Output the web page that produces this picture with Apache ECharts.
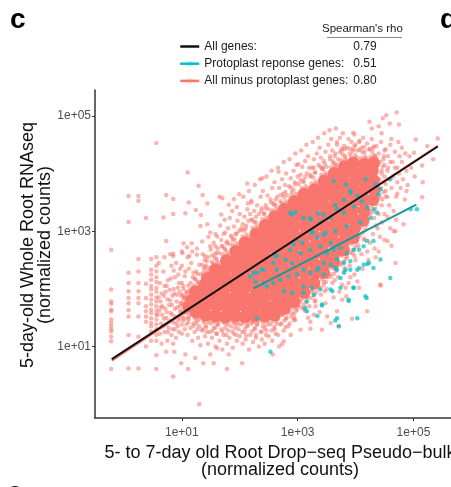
<!DOCTYPE html>
<html>
<head>
<meta charset="utf-8">
<script src="https://cdn.jsdelivr.net/npm/echarts@6/dist/echarts.min.js"></script>
<style>
  html, body { margin: 0; padding: 0; background: #fff; }
  #main { width: 451px; height: 487px; }
</style>
</head>
<body>
<div id="main"></div>
<script>
// all coordinates below are log10 values: [log10 x, log10 y]
const legendNames = ['All genes:', 'Protoplast reponse genes:', 'All minus protoplast genes:'];
const rhoValues = ['0.79', '0.51', '0.80'];
const tickValues = [10, 1000, 100000];

// regression lines, end points
const allGenesLine = [[-0.21, 0.78], [5.42, 4.47]];
const protoLine = [[2.24, 2.01], [5.05, 3.46]];
const minusLine = [[-0.21, 0.755], [5.42, 4.48]];

// solid middle of the cloud (drawn with bigger marks)
const minusCore = [
  [1.12,1.70],[1.17,1.80],
  [1.25,1.60],[1.27,1.78],[1.24,1.95],
  [1.41,1.55],[1.43,1.73],[1.42,1.90],[1.40,2.07],[1.44,2.18],
  [1.58,1.53],[1.60,1.70],[1.59,1.87],[1.57,2.03],[1.61,2.19],[1.58,2.33],
  [1.75,1.52],[1.77,1.69],[1.76,1.85],[1.74,2.02],[1.78,2.18],[1.75,2.35],[1.77,2.49],
  [1.92,1.53],[1.94,1.70],[1.93,1.86],[1.91,2.03],[1.95,2.19],[1.92,2.36],[1.94,2.52],[1.93,2.65],
  [2.09,1.52],[2.11,1.69],[2.10,1.85],[2.08,2.02],[2.12,2.18],[2.09,2.35],[2.11,2.50],[2.10,2.66],[2.09,2.80],
  [2.26,1.53],[2.28,1.70],[2.27,1.86],[2.25,2.03],[2.29,2.20],[2.26,2.36],[2.28,2.52],[2.27,2.68],[2.26,2.83],[2.28,2.95],
  [2.43,1.53],[2.45,1.70],[2.44,1.86],[2.42,2.02],[2.46,2.19],[2.43,2.35],[2.45,2.52],[2.44,2.68],[2.43,2.84],[2.45,2.99],[2.44,3.10],
  [2.60,1.55],[2.62,1.71],[2.61,1.88],[2.59,2.04],[2.63,2.20],[2.60,2.37],[2.62,2.53],[2.61,2.70],[2.60,2.86],[2.62,3.02],[2.61,3.16],[2.60,3.25],
  [2.77,1.66],[2.79,1.82],[2.78,1.98],[2.76,2.15],[2.80,2.31],[2.77,2.48],[2.79,2.64],[2.78,2.80],[2.77,2.96],[2.79,3.12],[2.78,3.27],[2.77,3.38],
  [2.94,1.78],[2.96,1.95],[2.95,2.11],[2.93,2.28],[2.97,2.44],[2.94,2.61],[2.96,2.77],[2.95,2.93],[2.94,3.10],[2.96,3.26],[2.95,3.41],[2.94,3.51],
  [3.11,1.94],[3.13,2.10],[3.12,2.27],[3.10,2.43],[3.14,2.60],[3.11,2.76],[3.13,2.92],[3.12,3.09],[3.11,3.25],[3.13,3.41],[3.12,3.55],[3.11,3.64],
  [3.28,2.10],[3.30,2.27],[3.29,2.43],[3.27,2.60],[3.31,2.76],[3.28,2.93],[3.30,3.09],[3.29,3.25],[3.28,3.42],[3.30,3.58],[3.29,3.72],
  [3.45,2.28],[3.47,2.44],[3.46,2.60],[3.44,2.77],[3.48,2.93],[3.45,3.10],[3.47,3.26],[3.46,3.42],[3.45,3.58],[3.47,3.74],[3.46,3.87],
  [3.62,2.47],[3.64,2.63],[3.63,2.80],[3.61,2.96],[3.65,3.12],[3.62,3.29],[3.64,3.45],[3.63,3.61],[3.62,3.77],[3.64,3.92],[3.63,4.00],
  [3.79,2.68],[3.81,2.84],[3.80,3.00],[3.78,3.17],[3.82,3.33],[3.79,3.49],[3.81,3.66],[3.80,3.82],[3.79,3.98],[3.81,4.12],
  [3.96,2.89],[3.98,3.05],[3.97,3.21],[3.95,3.38],[3.99,3.54],[3.96,3.70],[3.98,3.86],[3.97,4.02],[3.96,4.18],
  [4.13,3.19],[4.15,3.35],[4.14,3.52],[4.12,3.68],[4.16,3.84],[4.13,4.00],[4.15,4.16],
  [4.30,3.55],[4.32,3.72],[4.31,3.88],[4.29,4.05],[4.31,4.18]
];

// crowded band just outside the solid middle
const minusEdge = [
  [1.08,1.92],[1.14,1.98],[1.11,2.06],[1.06,1.85],[1.16,1.90],[1.08,1.60],[1.14,1.55],[1.10,1.50],[1.05,1.66],[1.17,1.62],
  [1.00,1.75],[0.97,1.70],[1.03,1.82],[0.98,1.58],[1.01,1.90],
  [1.21,2.06],[1.28,2.10],[1.24,2.16],[1.31,2.05],[1.19,2.20],[1.27,2.26],[1.22,1.50],[1.29,1.46],[1.25,1.40],[1.31,1.52],[1.20,1.36],[1.27,1.30],
  [1.37,2.28],[1.44,2.32],[1.40,2.38],[1.47,2.27],[1.35,2.42],[1.43,2.48],[1.38,1.45],[1.45,1.42],[1.41,1.36],[1.47,1.47],[1.36,1.30],[1.43,1.25],
  [1.54,2.44],[1.61,2.47],[1.57,2.54],[1.64,2.43],[1.52,2.58],[1.60,2.63],[1.55,1.42],[1.62,1.38],[1.58,1.33],[1.64,1.44],[1.53,1.27],[1.60,1.22],
  [1.71,2.60],[1.78,2.63],[1.74,2.70],[1.81,2.59],[1.69,2.74],[1.77,2.79],[1.72,1.42],[1.79,1.38],[1.75,1.32],[1.81,1.44],[1.70,1.26],[1.77,1.20],
  [1.88,2.76],[1.95,2.79],[1.91,2.86],[1.98,2.75],[1.86,2.90],[1.94,2.95],[1.89,1.42],[1.96,1.38],[1.92,1.32],[1.98,1.44],[1.87,1.26],[1.94,1.20],
  [2.05,2.91],[2.12,2.94],[2.08,3.01],[2.15,2.90],[2.03,3.05],[2.11,3.10],[2.06,1.41],[2.13,1.37],[2.09,1.31],[2.15,1.43],[2.04,1.25],[2.11,1.19],
  [2.22,3.06],[2.29,3.09],[2.25,3.16],[2.32,3.05],[2.20,3.20],[2.28,3.25],[2.23,1.42],[2.30,1.38],[2.26,1.32],[2.32,1.44],[2.21,1.26],[2.28,1.20],
  [2.39,3.21],[2.46,3.24],[2.42,3.31],[2.49,3.20],[2.37,3.35],[2.45,3.40],[2.40,1.42],[2.47,1.38],[2.43,1.32],[2.49,1.44],[2.38,1.26],[2.45,1.20],
  [2.56,3.36],[2.63,3.39],[2.59,3.46],[2.66,3.35],[2.54,3.50],[2.62,3.55],[2.57,1.44],[2.64,1.40],[2.60,1.34],[2.66,1.48],[2.55,1.28],[2.62,1.22],
  [2.73,3.49],[2.80,3.52],[2.76,3.59],[2.83,3.48],[2.71,3.63],[2.79,3.68],[2.74,1.55],[2.81,1.50],[2.77,1.45],[2.83,1.58],[2.72,1.40],[2.79,1.34],
  [2.90,3.62],[2.97,3.65],[2.93,3.72],[3.00,3.61],[2.88,3.76],[2.96,3.81],[2.91,1.67],[2.98,1.62],[2.94,1.57],[3.00,1.70],[2.89,1.52],[2.96,1.46],
  [3.07,3.75],[3.14,3.78],[3.10,3.85],[3.17,3.74],[3.05,3.89],[3.13,3.94],[3.08,1.83],[3.15,1.78],[3.11,1.73],[3.17,1.86],[3.06,1.68],[3.13,1.62],
  [3.24,3.83],[3.31,3.86],[3.27,3.93],[3.34,3.82],[3.22,3.97],[3.30,4.02],[3.25,1.99],[3.32,1.94],[3.28,1.89],[3.34,2.02],[3.23,1.84],[3.30,1.78],
  [3.41,3.98],[3.48,4.01],[3.44,4.08],[3.51,3.97],[3.39,4.12],[3.47,4.17],[3.42,2.17],[3.49,2.12],[3.45,2.07],[3.51,2.20],[3.40,2.02],[3.47,1.96],
  [3.58,4.11],[3.65,4.14],[3.61,4.21],[3.68,4.10],[3.56,4.25],[3.64,4.30],[3.59,2.36],[3.66,2.31],[3.62,2.26],[3.68,2.39],[3.57,2.21],[3.64,2.15],
  [3.75,4.23],[3.82,4.26],[3.78,4.33],[3.85,4.22],[3.73,4.37],[3.81,4.42],[3.76,2.57],[3.83,2.52],[3.79,2.47],[3.85,2.60],[3.74,2.42],[3.81,2.36],
  [3.92,4.29],[3.99,4.32],[3.95,4.39],[4.02,4.28],[3.90,4.43],[3.98,4.48],[3.93,2.78],[4.00,2.73],[3.96,2.68],[4.02,2.81],[3.91,2.63],[3.98,2.57],
  [4.09,4.27],[4.16,4.30],[4.12,4.37],[4.19,4.26],[4.07,4.41],[4.15,4.46],[4.10,3.08],[4.17,3.03],[4.13,2.98],[4.19,3.11],[4.08,2.93],[4.15,2.87],
  [4.26,4.29],[4.33,4.32],[4.29,4.38],[4.36,4.27],[4.24,4.42],[4.32,4.47],[4.27,3.44],[4.34,3.39],[4.30,3.34],[4.36,3.47],[4.25,3.29],[4.32,3.23],
  [4.42,3.60],[4.44,3.75],[4.41,3.90],[4.45,4.05],[4.43,4.20],[4.48,3.68],[4.50,3.95],[4.47,4.12],[4.52,3.82],[4.49,4.30],[4.55,3.60],[4.56,4.10],
  [0.61,1.62],[0.63,1.78],[0.67,1.35],[0.69,1.88],[0.71,1.66],[0.73,1.50],[0.75,1.82],[0.77,1.32],[0.79,1.98],[0.81,1.58],
  [0.83,1.72],[0.85,1.42],[0.87,1.92],[0.89,1.52],[0.91,1.78],[0.93,1.35],[0.95,2.10],[0.97,1.62],[0.99,1.88],[1.01,1.52],
  [1.03,2.00],[1.05,1.70],[1.07,1.58],[1.09,1.85],[1.11,1.42],[1.13,1.95],[1.15,1.65],[1.17,1.55],[1.19,1.90],[1.21,1.72],
  [0.64,1.68],[0.70,2.05],[0.76,1.25],[0.82,1.20],[0.88,1.30],[0.94,1.45],[1.00,1.22],[1.06,2.30],[0.97,2.35],[0.86,2.32]
];

// single visible genes further out
const minusSparse = [
  // low-count columns on the left
  [-0.22,2.68],[-0.22,1.99],[-0.22,1.78],[-0.22,1.74],[-0.22,1.64],[-0.22,1.61],[-0.22,1.47],[-0.22,1.41],[-0.22,1.35],[-0.22,1.30],[-0.22,1.26],[-0.22,1.17],[-0.22,1.09],[-0.22,0.61],
  [0.08,3.61],[0.08,3.16],[0.08,2.28],[0.08,2.10],[0.08,1.96],[0.08,1.84],[0.08,1.75],[0.08,1.63],[0.08,1.52],[0.08,1.20],[0.08,0.62],
  [0.25,3.61],[0.25,3.53],[0.25,2.52],[0.25,2.30],[0.25,2.10],[0.25,1.96],[0.25,1.84],[0.25,1.75],[0.25,1.52],[0.25,1.17],[0.25,0.62],
  [0.38,3.23],[0.38,2.09],[0.38,1.84],[0.38,1.70],[0.38,1.61],[0.38,1.52],[0.38,1.43],[0.38,1.00],
  [0.47,2.52],[0.47,2.33],[0.47,2.25],[0.47,2.16],[0.47,2.05],[0.47,1.99],[0.47,1.90],[0.47,1.81],[0.47,1.73],[0.47,1.64],[0.47,1.58],[0.47,1.49],[0.47,1.41],[0.47,1.35],[0.47,1.26],[0.47,1.10],
  [0.56,2.55],[0.56,2.40],[0.56,2.30],[0.56,2.20],[0.56,2.12],[0.56,2.02],[0.56,1.95],[0.56,1.85],[0.56,1.78],[0.56,1.70],[0.56,1.62],[0.56,1.55],[0.56,1.47],[0.56,1.38],[0.56,1.30],[0.56,1.20],[0.56,1.10],[0.56,0.85],[0.56,0.61],
  // left part of the cloud
  [0.58,1.55],[0.60,1.85],[0.62,2.10],[0.64,1.40],[0.66,1.70],[0.68,2.30],[0.70,1.25],[0.72,1.95],[0.74,1.60],[0.76,2.15],
  [0.78,1.45],[0.80,1.80],[0.82,2.40],[0.84,1.30],[0.86,2.00],[0.88,1.65],[0.90,1.15],[0.92,1.90],[0.94,2.25],[0.96,1.50],
  [0.98,1.75],[1.00,2.10],[1.02,1.62],[0.65,1.05],[0.75,1.10],[0.85,1.05],[0.95,1.25],[0.60,2.45],[0.70,2.55],[0.80,2.60],
  [0.90,2.45],[1.00,2.65],[0.66,1.55],[0.72,1.38],[0.78,1.72],[0.84,1.88],[0.90,1.40],[0.96,1.95],[0.62,1.22],[0.88,2.20],
  [0.65,1.92],[0.74,2.05],[0.83,1.55],[0.92,1.68],[1.00,1.38],[0.69,1.48],[0.81,2.18],[0.93,2.02],[1.04,1.85],[1.04,1.48],
  // upper-left strays
  [0.56,4.53],[0.73,3.63],[0.85,3.56],[0.68,3.24],[0.85,3.30],[0.73,2.83],[0.85,2.61],[0.85,2.57],[1.06,3.31],[1.10,4.02],
  [1.12,3.50],[1.29,3.79],[1.24,3.37],[1.33,3.28],[1.36,3.63],[1.44,3.48],[1.32,3.09],[1.44,3.12],[1.49,2.98],[1.65,3.60],
  [1.70,3.57],[1.68,3.29],[1.81,3.46],[1.83,3.23],[1.90,3.56],[1.99,3.64],[2.13,3.83],[2.14,3.48],[2.39,3.92],[2.20,3.53],
  [1.03,2.79],[1.17,2.79],[1.09,2.72],[1.01,2.62],[1.18,2.65],[1.26,2.59],[1.13,2.57],[1.40,2.57],[1.49,2.74],[1.58,2.74],
  [1.61,2.91],[1.75,2.98],[3.01,4.16],[2.67,4.03],[3.28,4.10],[3.43,4.10],[3.67,4.16],
  // upper edge of the cloud
  [1.02,2.05],[1.05,2.22],[1.08,1.95],[1.12,2.35],[1.15,2.10],[1.18,2.02],[1.20,2.28],[1.00,2.40],[1.10,2.55],[1.16,2.45],
  [1.22,2.18],[1.25,2.30],[1.28,2.12],[1.30,2.42],[1.33,2.25],[1.36,2.60],[1.38,2.35],[1.40,2.50],[1.26,2.70],[1.35,2.82],
  [1.42,2.40],[1.45,2.55],[1.48,2.36],[1.50,2.68],[1.52,2.47],[1.55,2.80],[1.57,2.60],[1.60,2.52],[1.46,2.90],[1.58,2.95],
  [1.62,2.70],[1.65,2.62],[1.68,2.85],[1.70,2.74],[1.72,2.95],[1.75,2.68],[1.78,2.82],[1.80,3.05],[1.66,3.10],[1.74,3.20],
  [1.82,2.78],[1.85,2.92],[1.88,2.85],[1.90,3.08],[1.93,2.95],[1.96,3.18],[1.98,3.00],[2.00,3.30],[1.87,3.35],[1.95,3.42],
  [2.02,3.02],[2.05,3.12],[2.08,3.25],[2.10,3.05],[2.13,3.38],[2.15,3.18],[2.18,3.30],[2.20,3.50],[2.06,3.60],[2.16,3.70],
  [2.22,3.20],[2.25,3.35],[2.28,3.15],[2.30,3.45],[2.33,3.30],[2.36,3.60],[2.38,3.40],[2.40,3.70],[2.26,3.80],[2.35,3.90],
  [2.42,3.30],[2.45,3.45],[2.48,3.62],[2.50,3.38],[2.53,3.55],[2.56,3.75],[2.58,3.48],[2.60,3.85],[2.46,3.95],[2.55,4.05],
  [2.62,3.45],[2.65,3.60],[2.68,3.75],[2.70,3.52],[2.73,3.90],[2.75,3.65],[2.78,3.80],[2.80,4.00],[2.66,4.10],[2.76,4.20],
  [2.82,3.62],[2.85,3.78],[2.88,3.92],[2.90,3.68],[2.93,4.05],[2.95,3.85],[2.98,4.15],[3.00,3.95],[2.86,4.25],[2.96,4.35],
  [3.02,3.82],[3.05,3.98],[3.08,4.12],[3.10,3.88],[3.13,4.22],[3.16,4.00],[3.18,4.30],[3.20,4.10],[3.06,4.40],[3.15,4.50],
  [3.22,3.95],[3.25,4.10],[3.28,4.25],[3.30,4.02],[3.33,4.35],[3.36,4.15],[3.38,4.45],[3.40,4.28],[3.26,4.55],[3.35,4.62],
  [3.42,4.08],[3.45,4.22],[3.48,4.38],[3.50,4.12],[3.53,4.50],[3.56,4.30],[3.58,4.60],[3.60,4.40],[3.46,4.70],[3.55,4.75],
  [3.62,4.18],[3.65,4.35],[3.68,4.50],[3.70,4.25],[3.73,4.62],[3.76,4.40],[3.78,4.70],[3.80,4.48],[3.66,4.78],
  [3.82,4.30],[3.85,4.45],[3.88,4.60],[3.90,4.35],[3.93,4.55],[3.96,4.42],[3.98,4.68],[4.00,4.50],
  [4.03,4.40],[4.06,4.55],[4.10,4.45],[4.13,4.62],[4.16,4.38],[4.20,4.52],[4.24,4.42],[4.28,4.60],[4.30,4.45],
  [4.33,4.30],[4.36,4.48],[4.40,4.35],[4.44,4.55],[4.48,4.25],[4.52,4.42],[4.56,4.30],[4.60,4.50],[4.64,4.20],[4.68,4.38],
  [4.72,4.10],[4.76,4.30],[4.80,4.45],
  // right side
  [4.45,4.00],[4.48,3.85],[4.50,4.15],[4.52,3.70],[4.55,4.05],[4.57,3.90],[4.60,4.20],[4.62,3.75],[4.65,3.95],[4.68,4.10],
  [4.70,3.60],[4.72,3.85],[4.75,4.00],[4.78,3.75],[4.80,4.20],[4.82,3.90],[4.85,3.55],[4.88,4.05],[4.90,3.80],[4.93,4.30],
  [4.46,3.55],[4.58,3.45],[4.66,3.35],[4.50,4.40],[4.62,4.60],[4.74,4.55],[4.86,4.35],[4.96,4.10],[4.45,4.70],[4.40,4.82],
  [4.45,3.45],[4.55,3.25],[4.60,3.05],[4.50,2.85],[4.62,2.75],[4.40,2.65],[4.70,3.20],[4.52,3.60],[4.35,3.10],
  [4.71,5.06],[4.53,5.01],[4.59,4.87],[4.47,4.96],[4.75,4.85],[4.24,4.90],[4.28,4.78],[3.96,4.71],[4.07,4.57],[3.68,4.55],
  [3.76,4.43],[5.04,4.59],[5.42,4.61],[5.24,4.48],[5.34,4.25],[5.15,4.14],[5.01,4.36],[5.02,3.95],[5.16,3.85],[5.15,3.59],
  [4.88,3.70],[4.72,3.65],[4.83,3.12],[4.69,3.00],[4.55,2.83],[4.66,3.00],
  // lower-right edge
  [4.40,3.30],[4.45,3.15],[4.38,3.05],[4.50,3.30],[4.42,2.90],[4.30,2.95],[4.25,2.80],[4.33,2.70],[4.20,2.65],[4.15,2.85],
  [4.10,2.60],[4.05,2.75],[4.00,2.50],[3.95,2.62],[3.90,2.40],[3.85,2.55],[3.80,2.30],[3.75,2.45],[3.70,2.20],[3.65,2.35],
  [3.60,2.10],[3.55,2.25],[3.50,2.00],[3.45,2.12],[3.40,1.90],[3.35,2.05],[3.30,1.80],[3.25,1.95],[3.20,1.70],[3.15,1.85],
  [3.10,1.65],[3.05,1.78],[4.12,2.35],[4.22,2.50],[4.35,2.55],[3.98,2.25],[3.88,2.10],[3.72,1.95],[3.62,1.85],[3.48,1.75],
  [3.38,1.60],[3.28,1.55],[3.18,1.50],
  [4.43,2.06],[4.69,2.45],[3.94,1.48],[4.20,1.61],[3.77,1.81],[3.68,1.61],[3.71,1.35],[3.57,1.41],[3.42,1.29],[3.22,1.31],
  [3.05,1.29],[2.84,1.35],[2.76,1.09],[2.73,1.04],[2.57,0.86],[2.93,1.46],[3.22,1.43],[3.31,1.70],[3.51,1.52],[3.83,2.02],
  [3.77,2.07],[4.03,2.13],[3.91,2.20],[4.06,2.02],[3.84,1.87],[4.43,2.07],
  // lower edge
  [1.02,1.45],[1.05,1.30],[1.08,1.38],[1.10,1.20],[1.12,1.48],[1.15,1.32],[1.18,1.10],[1.20,1.40],[1.22,1.25],[1.25,1.45],
  [1.28,1.15],[1.30,1.35],[1.32,1.02],[1.35,1.28],[1.38,1.42],[1.40,1.18],[1.42,1.33],[1.45,1.05],[1.48,1.25],[1.50,1.40],
  [1.52,1.15],[1.55,1.32],[1.58,1.00],[1.60,1.22],[1.62,1.38],[1.65,1.10],[1.68,1.30],[1.70,0.95],[1.72,1.20],[1.75,1.40],
  [1.78,1.05],[1.80,1.28],[1.82,1.15],[1.85,1.35],[1.88,0.98],[1.90,1.22],[1.92,1.40],[1.95,1.10],[1.98,1.30],[2.00,1.18],
  [2.02,1.38],[2.05,1.05],[2.08,1.25],[2.10,1.12],[2.13,1.35],[2.16,0.95],[2.18,1.20],[2.20,1.40],[2.23,1.08],[2.26,1.30],
  [2.28,1.15],[2.30,1.38],[2.33,1.00],[2.36,1.25],[2.38,1.12],[2.40,1.35],[2.43,1.05],[2.46,1.28],[2.50,1.18],[2.53,1.38],
  [2.56,1.10],[2.60,1.30],[2.63,1.45],[2.66,1.20],[2.70,1.38],[2.73,1.55],[2.76,1.28],[2.80,1.48],[2.83,1.62],[2.86,1.40],
  [2.90,1.58],[2.94,1.50],[2.98,1.65],[2.68,1.00],[2.88,1.20],
  [0.85,0.48],[1.30,0.00],[1.11,0.61],[1.37,0.71],[1.55,0.71],[1.78,0.61],[2.04,0.71],[0.87,0.91],[0.99,0.71],[0.73,0.91],
  [1.06,0.86],[1.23,0.80],[1.49,0.86],[1.81,0.86],[1.61,0.97]
];

// protoplast response genes
const protoPoints = [
  [2.24,2.28],[2.38,2.33],[2.61,2.57],[2.79,2.51],[2.90,2.45],[2.93,2.77],[2.99,2.86],[3.08,2.80],[3.25,2.97],[3.34,2.89],
  [3.45,2.94],[3.57,2.80],[3.62,2.68],[3.74,2.71],[3.85,2.62],[3.97,2.68],[4.06,2.68],[4.14,2.74],[4.20,2.83],[4.31,2.83],
  [4.43,2.51],[4.23,2.45],[4.14,2.42],[4.03,2.33],[3.91,2.33],[3.80,2.28],[3.68,2.33],[3.57,2.42],[3.45,2.45],[3.34,2.33],
  [3.22,2.28],[3.10,2.33],[2.99,2.25],[2.84,2.22],[2.70,2.16],[2.58,2.10],[2.47,2.04],[2.76,1.96],[2.90,1.93],[3.10,1.93],
  [3.28,1.90],[3.39,1.99],[3.57,1.99],[3.74,2.02],[3.88,1.81],[3.97,2.02],[4.17,1.87],[4.60,2.19],[3.13,1.67],[3.16,1.61],
  [3.34,1.53],[3.42,1.73],[3.68,1.49],[4.03,1.49],[2.30,1.49],[2.53,0.91],[2.41,2.10],[2.64,2.33],[2.87,2.68],[3.05,2.62],
  [3.22,2.68],[3.39,2.74],[3.51,2.62],[3.68,2.51],[3.80,2.45],
  [3.62,3.87],[3.83,3.81],[3.91,3.70],[4.03,3.61],[4.11,3.52],[4.20,3.41],[3.97,3.43],[3.80,3.32],[3.68,3.38],[3.57,3.23],
  [3.45,3.29],[3.39,3.15],[3.22,3.20],[3.10,3.23],[2.90,3.29],[3.25,3.00],[3.48,2.97],[3.65,3.00],[3.85,3.09],[4.08,3.15],
  [4.26,3.23],[4.37,3.32],[4.40,3.64],[4.34,3.81],[4.17,3.90],[5.06,3.38],[4.95,3.38],
  [4.20,2.43],[4.31,2.36],[4.19,1.84],[3.88,1.79],[3.96,2.02],[3.16,1.78],[3.42,1.71],[3.65,1.45],[3.60,1.96],[3.74,2.19],
  [3.65,2.36],[3.83,2.33],[3.91,2.48],[4.06,2.36],[3.36,2.36],[3.45,2.25],[3.25,2.02],[3.10,2.04],[3.71,1.35],
  [2.30,2.28],[2.41,2.33],[2.27,2.13],[2.18,2.22],[2.64,2.57],[2.58,2.45],
  [2.87,3.32],[2.96,3.34],[3.22,3.22],[3.36,3.31],[3.65,3.45],[3.80,3.54],[3.91,3.67],[4.43,3.73],[4.60,3.90],[4.31,3.38]
];

const fontFam = 'Liberation Sans, Arial, Helvetica, sans-serif';
const toRaw = p => [Math.pow(10, p[0]), Math.pow(10, p[1])];
const expLabel = v => '1e+' + String(Math.round(Math.log10(v))).padStart(2, '0');

var myChart = echarts.init(document.getElementById('main'));

function logAxis(min, max, margin, name, nameGap, namePad) {
  return {
    type: 'log',
    logBase: 10,
    min: Math.pow(10, min),
    max: Math.pow(10, max),
    name: name,
    nameLocation: 'middle',
    nameGap: nameGap,
    nameMoveOverlap: false,
    nameTextStyle: {
      fontFamily: fontFam, fontSize: 18, color: '#111', lineHeight: 17,
      padding: namePad
    },
    axisLine: { lineStyle: { color: '#333', width: 1.5 } },
    axisTick: { customValues: tickValues, length: 3, lineStyle: { color: '#333', width: 1 } },
    axisLabel: {
      customValues: tickValues,
      formatter: expLabel,
      margin: margin,
      fontFamily: fontFam,
      fontSize: 12,
      color: '#4d4d4d'
    },
    splitLine: { show: false },
    minorTick: { show: false }
  };
}

var option = {
  animation: false,
  grid: { left: 95, right: -3, top: 90, bottom: 69, outerBoundsMode: 'none', containLabel: false },
  xAxis: logAxis(-0.5, 5.70, 9, '5- to 7-day old Root Drop\u2212seq Pseudo\u2212bulk\n(normalized counts)', 27, [0, 0, 0, 11]),
  yAxis: logAxis(-0.24, 5.45, 4, '5-day-old Whole Root RNAseq\n(normalized counts)', 41, [0, 0, 0, 18]),
  legend: {
    orient: 'vertical',
    left: 179,
    top: 39.5,
    padding: 0,
    itemWidth: 19,
    itemHeight: 8,
    itemGap: 3.2,
    selectedMode: false,
    data: [
      { name: legendNames[0], itemStyle: { color: 'rgba(0,0,0,0)' }, lineStyle: { color: '#111', width: 2.5 } },
      { name: legendNames[1], itemStyle: { color: 'rgba(0,191,196,0.2)' }, lineStyle: { color: '#00BFC4', width: 2.5 } },
      { name: legendNames[2], itemStyle: { color: 'rgba(248,118,109,0.2)' }, lineStyle: { color: '#F8766D', width: 2.5 } }
    ],
    formatter: name => '{n|' + name + '}{v|' + rhoValues[legendNames.indexOf(name)] + '}',
    textStyle: {
      fontFamily: fontFam, fontSize: 12, color: '#1a1a1a', lineHeight: 14,
      rich: {
        n: { width: 149, fontFamily: fontFam, fontSize: 12, color: '#1a1a1a' },
        v: { fontFamily: fontFam, fontSize: 12, color: '#1a1a1a' }
      }
    }
  },
  graphic: [
    { type: 'text', left: 322, top: 23, style: { text: "Spearman's rho", font: '11.5px ' + fontFam, fill: '#1a1a1a' } },
    { type: 'line', shape: { x1: 327, y1: 37.5, x2: 402, y2: 37.5 }, style: { stroke: '#888', lineWidth: 1 } },
    { type: 'text', left: 10, top: 6, style: { text: 'c', font: 'bold 28px ' + fontFam, fill: '#000' } },
    { type: 'text', left: 440, top: 6, style: { text: 'd', font: 'bold 28px ' + fontFam, fill: '#000' } },
    { type: 'text', left: 7, top: 479, style: { text: 'e', font: 'bold 28px ' + fontFam, fill: '#000' } }
  ],
  series: [
    {
      name: 'minus core',
      type: 'scatter',
      z: 2,
      silent: true,
      symbolSize: 13,
      itemStyle: { color: '#F8766D', opacity: 1 },
      data: minusCore.map(toRaw)
    },
    {
      name: 'minus edge',
      type: 'scatter',
      z: 3,
      silent: true,
      symbolSize: 4.5,
      itemStyle: { color: '#F8766D', opacity: 0.55 },
      data: minusEdge.map(toRaw)
    },
    {
      name: 'minus points',
      type: 'scatter',
      z: 3,
      silent: true,
      symbolSize: 4.5,
      itemStyle: { color: '#F8766D', opacity: 0.55 },
      data: minusSparse.map(toRaw)
    },
    {
      name: 'proto points',
      type: 'scatter',
      z: 4,
      silent: true,
      symbolSize: 4.5,
      itemStyle: { color: '#00BFC4', opacity: 0.7 },
      data: protoPoints.map(toRaw)
    },
    {
      name: legendNames[2],
      type: 'line',
      z: 5,
      symbol: 'circle',
      showSymbol: false,
      silent: true,
      itemStyle: { color: '#F8766D' },
      lineStyle: { color: '#F8766D', width: 2 },
      data: minusLine.map(toRaw)
    },
    {
      name: legendNames[0],
      type: 'line',
      z: 6,
      symbol: 'circle',
      showSymbol: false,
      silent: true,
      itemStyle: { color: '#111' },
      lineStyle: { color: '#111', width: 2 },
      data: allGenesLine.map(toRaw)
    },
    {
      name: legendNames[1],
      type: 'line',
      z: 7,
      symbol: 'circle',
      showSymbol: false,
      silent: true,
      itemStyle: { color: '#00BFC4' },
      lineStyle: { color: '#17989b', width: 2 },
      data: protoLine.map(toRaw)
    }
  ]
};
myChart.setOption(option);
</script>
</body>
</html>
